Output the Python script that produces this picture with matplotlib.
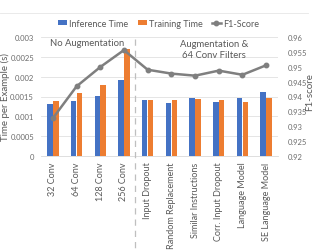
import matplotlib
matplotlib.use("Agg")
import matplotlib.pyplot as plt
import matplotlib.transforms as mtransforms
from matplotlib.lines import Line2D
from matplotlib.ticker import FuncFormatter
import numpy as np

categories = ["32 Conv", "64 Conv", "128 Conv", "256 Conv", "Input Dropout",
              "Random Replacement", "Similar Instructions", "Corr. Input Dropout",
              "Language Model", "SE Language Model"]
inference_time = [0.00130, 0.00138, 0.00152, 0.00192, 0.00142,
                  0.00134, 0.00145, 0.00137, 0.00147, 0.00162]
training_time = [0.00138, 0.00158, 0.00178, 0.00270, 0.00141,
                 0.00142, 0.00144, 0.00140, 0.00137, 0.00147]
f1_score = [0.9327, 0.9434, 0.9499, 0.9556, 0.9490,
            0.9477, 0.9470, 0.9487, 0.9473, 0.9505]

plt.rcParams['font.family'] = ['Lato', 'DejaVu Sans']
txt = '#595959'
tick_c = '#6B6B6B'
fig = plt.figure(figsize=(3.14, 2.51), dpi=100)
ax = fig.add_axes([41/314, 94/251, 237/314, 119/251])
x = np.arange(len(categories))
w = 0.23
ax.bar(x - 0.125, inference_time, w, color='#4472C4', label='Inference Time', zorder=2)
ax.bar(x + 0.125, training_time, w, color='#ED7D31', label='Training Time', zorder=2)
ax.set_xlim(-0.5, len(categories) - 0.5)
ax.set_ylim(0, 0.003)
ax.set_yticks(np.arange(0, 0.00301, 0.0005))
ax.yaxis.set_major_formatter(FuncFormatter(lambda v, p: '%g' % round(v, 5)))
ax.grid(axis='y', color='#E0E0E0', linewidth=0.6, zorder=0)
for s in ['top', 'left', 'right']:
    ax.spines[s].set_visible(False)
ax.spines['bottom'].set_color('#D9D9D9')
ax.spines['bottom'].set_linewidth(0.6)
ax.set_xticks(x)
ax.set_xticklabels(categories, rotation=90, color=txt)
ax.tick_params(axis='y', length=0, labelsize=5.5, colors=tick_c, pad=5)
ax.tick_params(axis='x', length=0, labelsize=6.5, colors=txt, pad=4)

ax2 = ax.twinx()
ax2.plot(x, f1_score, color='#7F7F7F', linewidth=1.8, marker='o', markersize=3.2,
         label='F1-Score', zorder=3)
ax2.set_ylim(0.92, 0.96)
ax2.set_yticks(np.arange(0.92, 0.9601, 0.005))
ax2.yaxis.set_major_formatter(FuncFormatter(lambda v, p: '%g' % round(v, 4)))
for s in ['top', 'left', 'right', 'bottom']:
    ax2.spines[s].set_visible(False)
ax2.tick_params(axis='y', length=0, labelsize=5.5, colors=tick_c, pad=7)

fig.text(5.5/314, 1 - 97/251, 'Time per Example (s)', rotation=90, fontsize=7,
         color=txt, ha='center', va='center')
fig.text(310/314, 1 - 92/251, 'F1-score', rotation=90, fontsize=7,
         color=txt, ha='center', va='center')

# separator between the two experiment groups
tr = mtransforms.blended_transform_factory(ax.transData, fig.transFigure)
fig.add_artist(Line2D([3.47, 3.47], [211/251, 0], transform=tr, color='#BFBFBF',
                      linewidth=0.9, linestyle=(0, (5, 4))))
fig.add_artist(Line2D([0, 308/314], [237/251, 237/251], transform=fig.transFigure,
                      color='#E6E6E6', linewidth=0.6))

ax.text(-0.12, 0.00285, 'No Augmentation', fontsize=6.8, color=txt, ha='left', va='center')
ax.text(6.8, 0.0027, 'Augmentation &\n64 Conv Filters', fontsize=6.8, color=txt,
        ha='center', va='center', linespacing=1.2)

h1, l1 = ax.get_legend_handles_labels()
h2, l2 = ax2.get_legend_handles_labels()
fig.legend(h1 + h2, l1 + l2, loc='center', bbox_to_anchor=(0.505, 0.904), ncol=3,
           frameon=False, fontsize=6.5, labelcolor=txt, handlelength=1.0,
           handleheight=0.6, handletextpad=0.25, columnspacing=1.0)

fig.savefig('out.png', dpi=100)
